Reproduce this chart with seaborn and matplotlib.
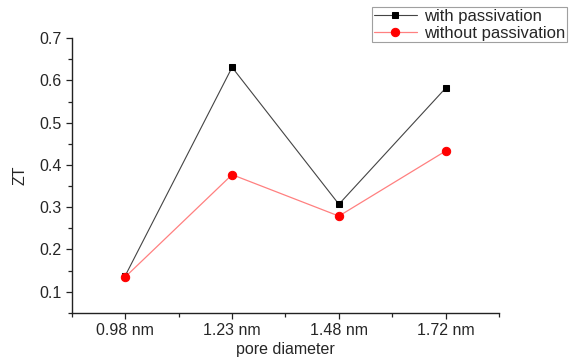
import matplotlib
matplotlib.use("Agg")
import matplotlib.pyplot as plt
import seaborn as sns
import pandas as pd
from matplotlib.ticker import MultipleLocator

# --- data ---
pore_labels = ["0.98 nm", "1.23 nm", "1.48 nm", "1.72 nm"]
zt_with = [0.138, 0.631, 0.307, 0.582]
zt_without = [0.135, 0.377, 0.279, 0.433]

sns.set_theme(style="ticks")
plt.rcParams["font.family"] = ["Liberation Sans", "DejaVu Sans"]

df = pd.DataFrame({
    "pos": list(range(len(pore_labels))) * 2,
    "ZT": zt_with + zt_without,
    "series": ["with passivation"] * 4 + ["without passivation"] * 4,
})

fig = plt.figure(figsize=(5.75, 3.6), dpi=100)
ax = fig.add_axes([0.125, 0.131, 0.743, 0.763])

sns.lineplot(data=df[df.series == "with passivation"], x="pos", y="ZT",
             color="#444444", linewidth=0.8, marker="s", markersize=5,
             markerfacecolor="black", markeredgecolor="black",
             label="with passivation", ax=ax)
sns.lineplot(data=df[df.series == "without passivation"], x="pos", y="ZT",
             color="#ff8080", linewidth=0.9, marker="o", markersize=6,
             markerfacecolor="red", markeredgecolor="red",
             label="without passivation", ax=ax)

ax.set_xlim(-0.5, 3.5)
ax.set_ylim(0.05, 0.7)
ax.set_xticks(range(len(pore_labels)))
ax.set_xticklabels(pore_labels)
ax.xaxis.set_minor_locator(MultipleLocator(0.5))
ax.yaxis.set_major_locator(MultipleLocator(0.1))
ax.yaxis.set_minor_locator(MultipleLocator(0.05))
ax.tick_params(which="major", direction="out", length=4, width=0.9, labelsize=11.5, color="#222222")
ax.tick_params(which="minor", direction="out", length=3, width=0.9, color="#222222")
ax.set_xlabel("pore diameter", fontsize=11.5, labelpad=3)
ax.set_ylabel("ZT", fontsize=11.5, labelpad=8)

sns.despine(ax=ax)
for s in ["left", "bottom"]:
    ax.spines[s].set_linewidth(1.0)
    ax.spines[s].set_color("#222222")

leg = ax.legend(loc="upper left", bbox_to_anchor=(0.647, 0.98), bbox_transform=fig.transFigure,
                fontsize=12, frameon=True, fancybox=False, edgecolor="#888888",
                handlelength=2.6, borderpad=0.1, labelspacing=0.1, handletextpad=0.4,
                borderaxespad=0)
leg.get_frame().set_linewidth(0.8)

fig.savefig("out.png", dpi=100, facecolor="white")
